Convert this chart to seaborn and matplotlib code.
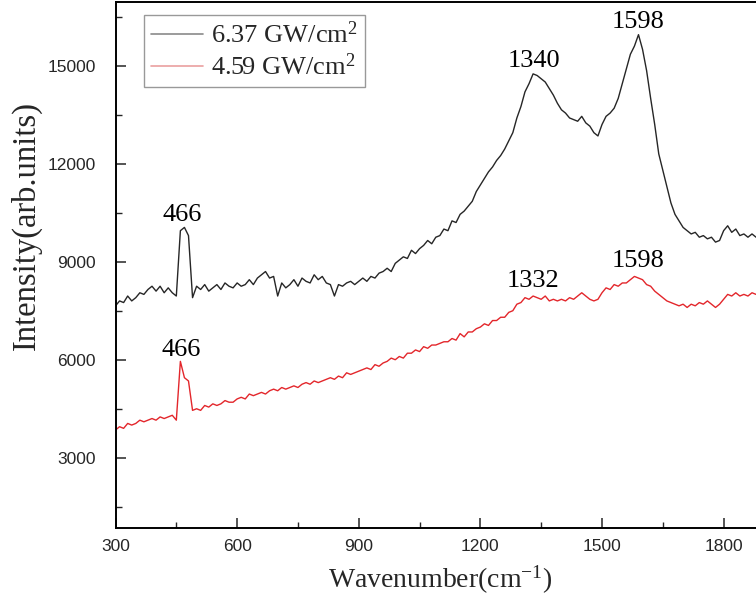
import numpy as np
import pandas as pd
import matplotlib
matplotlib.use("Agg")
import matplotlib.pyplot as plt
import seaborn as sns
from matplotlib.ticker import MultipleLocator

# ---------------- data ----------------
wavenumber = np.arange(300, 1881, 10)

intensity_637 = [
    7650, 7800, 7750, 7950, 7800, 7900, 8050, 8000, 8150, 8250,      # 300-390
    8100, 8250, 8050, 8200, 8050, 7950, 9950, 10050, 9800, 7900,     # 400-490
    8250, 8150, 8300, 8100, 8200, 8300, 8150, 8350, 8250, 8200,      # 500-590
    8350, 8250, 8300, 8450, 8300, 8500, 8600, 8700, 8500, 8550,      # 600-690
    7950, 8350, 8200, 8300, 8450, 8250, 8500, 8400, 8350, 8600,      # 700-790
    8450, 8550, 8350, 8300, 7950, 8300, 8250, 8350, 8400, 8300,      # 800-890
    8400, 8500, 8400, 8550, 8500, 8650, 8700, 8800, 8700, 8950,      # 900-990
    9050, 9150, 9100, 9350, 9250, 9400, 9500, 9650, 9550, 9750,      # 1000-1090
    9800, 10000, 9950, 10250, 10200, 10450, 10550, 10700, 10850, 11150,  # 1100-1190
    11350, 11550, 11750, 11900, 12100, 12250, 12450, 12700, 12950, 13400,  # 1200-1290
    13750, 14200, 14450, 14750, 14700, 14600, 14500, 14300, 14100, 13850,  # 1300-1390
    13650, 13550, 13400, 13350, 13300, 13450, 13250, 13150, 12950, 12850,  # 1400-1490
    13200, 13450, 13550, 13700, 14000, 14450, 14900, 15350, 15600, 15950,  # 1500-1590
    15500, 14850, 14000, 13200, 12300, 11800, 11300, 10800, 10450, 10250,  # 1600-1690
    10050, 9950, 9850, 9900, 9750, 9800, 9700, 9750, 9600, 9650,     # 1700-1790
    9950, 10100, 9900, 10000, 9800, 9850, 9750, 9850, 9750,          # 1800-1880
]

intensity_459 = [
    3850, 3950, 3900, 4050, 4000, 4050, 4150, 4100, 4150, 4200,      # 300-390
    4150, 4250, 4200, 4250, 4300, 4150, 5950, 5450, 5350, 4450,      # 400-490
    4500, 4450, 4600, 4550, 4650, 4600, 4650, 4750, 4700, 4700,      # 500-590
    4800, 4850, 4800, 4950, 4900, 4950, 5000, 4950, 5050, 5100,      # 600-690
    5050, 5150, 5100, 5150, 5200, 5150, 5250, 5300, 5250, 5350,      # 700-790
    5300, 5350, 5400, 5450, 5400, 5500, 5450, 5600, 5550, 5600,      # 800-890
    5650, 5700, 5750, 5700, 5850, 5800, 5900, 5950, 6050, 6000,      # 900-990
    6100, 6050, 6200, 6200, 6300, 6250, 6400, 6350, 6450, 6450,      # 1000-1090
    6500, 6550, 6550, 6650, 6600, 6800, 6700, 6850, 6850, 6950,      # 1100-1190
    7000, 7100, 7050, 7200, 7200, 7300, 7300, 7450, 7500, 7700,      # 1200-1290
    7750, 7900, 7850, 7950, 7900, 7850, 7950, 7800, 7850, 7800,      # 1300-1390
    7850, 7800, 7900, 7850, 7950, 8050, 7950, 7850, 7800, 7850,      # 1400-1490
    8050, 8200, 8150, 8300, 8250, 8350, 8350, 8450, 8550, 8500,      # 1500-1590
    8450, 8300, 8250, 8100, 8000, 7900, 7800, 7750, 7700, 7650,      # 1600-1690
    7700, 7600, 7700, 7650, 7750, 7700, 7800, 7700, 7600, 7700,      # 1700-1790
    7850, 8000, 7950, 8050, 7950, 8000, 7950, 8050, 8000,            # 1800-1880
]

series_labels = ["6.37 GW/cm$^{2}$", "4.59 GW/cm$^{2}$"]
series_colors = ["#262626", "#e3262b"]

peak_labels = ["466", "1340", "1598", "466", "1332", "1598"]
peak_x = [464, 1331, 1588, 461, 1330, 1590]
peak_y = [10430, 15140, 16330, 6300, 8410, 9020]
peak_colors = ["black"] * 6

x_ticks = [300, 600, 900, 1200, 1500, 1800]
y_ticks = [3000, 6000, 9000, 12000, 15000]

# ---------------- style ----------------
sns.set_style("ticks")
plt.rcParams["font.family"] = ["Liberation Sans", "DejaVu Sans"]
plt.rcParams["mathtext.fontset"] = "custom"
plt.rcParams["mathtext.rm"] = "Liberation Serif"
plt.rcParams["mathtext.it"] = "Liberation Serif:italic"

df = pd.DataFrame({
    "Wavenumber": np.concatenate([wavenumber, wavenumber]),
    "Intensity": np.concatenate([intensity_637, intensity_459]),
    "Series": [series_labels[0]] * len(wavenumber) + [series_labels[1]] * len(wavenumber),
})

fig = plt.figure(figsize=(7.56, 6.05), dpi=100)
ax = fig.add_axes([0.1528, 0.1273, 0.858, 0.8694])

sns.lineplot(data=df, x="Wavenumber", y="Intensity", hue="Series",
             palette=dict(zip(series_labels, series_colors)),
             linewidth=1.0, ax=ax, legend=True)

ax.set_xlim(300, 1900)
ax.set_ylim(850, 16950)
ax.set_xticks(x_ticks)
ax.set_yticks(y_ticks)
ax.xaxis.set_minor_locator(MultipleLocator(150))
ax.yaxis.set_minor_locator(MultipleLocator(1500))
ax.tick_params(which="major", direction="in", length=7, width=1.1,
               labelsize=12.5, top=False, right=False)
ax.tick_params(which="minor", direction="in", length=4, width=1.0,
               top=False, right=False)
ax.tick_params(axis="x", pad=8)
ax.tick_params(axis="y", pad=14)
for s in ax.spines.values():
    s.set_linewidth(1.4)
    s.set_color("black")

ax.set_xlabel("Wavenumber(cm$^{-1}$)", family="Liberation Serif", fontsize=20,
              va="top")
ax.xaxis.set_label_coords(0.5, -0.068)
ax.set_ylabel("Intensity(arb.units)", family="Liberation Serif", fontsize=23.5)
ax.yaxis.set_label_coords(-0.113, 0.576)

for lab, px, py, c in zip(peak_labels, peak_x, peak_y, peak_colors):
    ax.text(px, py, lab, ha="center", va="center", fontsize=19,
            family="Liberation Serif", color=c)

leg = ax.legend(loc="upper left", bbox_to_anchor=(0.044, 0.975),
                borderaxespad=0, frameon=True, fancybox=False,
                edgecolor="#999999", framealpha=1,
                prop={"family": "Liberation Serif", "size": 19},
                handlelength=2.0, handletextpad=0.3, labelspacing=0.2,
                borderpad=0.25, title=None)
leg.get_frame().set_linewidth(1.0)
for ln, c in zip(leg.get_lines(), ["#8a8a8a", "#eaa0a0"]):
    ln.set_color(c)
    ln.set_linewidth(1.2)

fig.savefig("out.png", dpi=100)
